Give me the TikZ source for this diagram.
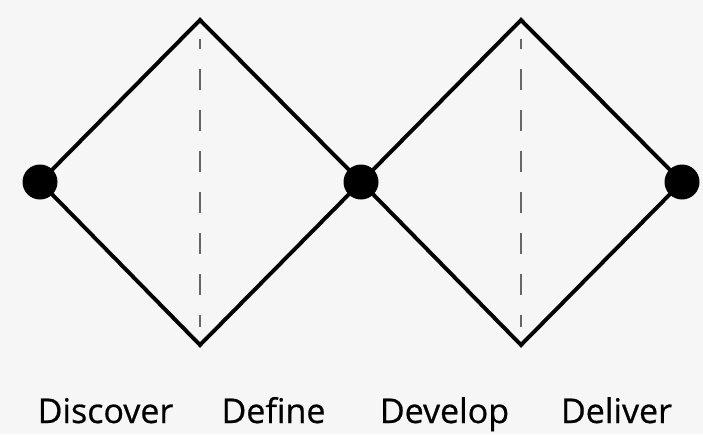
\documentclass[tikz,border=0pt]{standalone}
\usepackage{fontspec}
\setmainfont{Open Sans}
\newfontfamily\labelfont[FakeBold=0.6]{Open Sans}
\begin{document}
\begin{tikzpicture}[x=1pt,y=-1pt,
  edge/.style={line width=3.9pt, draw=black, line join=miter},
  dot/.style={circle, fill=black, inner sep=0pt, minimum size=35pt},
  axis/.style={line width=2pt, draw=black!60, dash pattern=on 21pt off 20pt, dash phase=11pt},
  phase/.style={anchor=base, font=\labelfont\fontsize{34pt}{40pt}\selectfont, text=black, inner sep=0pt}]
  \fill[black!3.5] (0,0) rectangle (703,434);
  \useasboundingbox (0,0) rectangle (703,434);

  % diamond corners
  \coordinate (t1) at (200,20);
  \coordinate (b1) at (200,345);
  \coordinate (t2) at (521,20);
  \coordinate (b2) at (521,345);
  \coordinate (a1) at (200,39);
  \coordinate (z1) at (200,327);
  \coordinate (a2) at (521,39);
  \coordinate (z2) at (521,327);

  % the two diamonds
  \coordinate (l) at (40,182);
  \coordinate (m) at (361,182);
  \coordinate (r) at (682,182);
  \draw[edge] (l) -- (t1) -- (m) -- (t2) -- (r) -- (b2) -- (m) -- (b1) -- cycle;

  % dashed centre lines
  \draw[axis] (a1) -- (z1);
  \draw[axis] (a2) -- (z2);

  % junction dots
  \node[dot] (L) at (l) {};
  \node[dot] (M) at (m) {};
  \node[dot] (R) at (r) {};

  % phase labels
  \node[phase] (discover) at (105.5,423) {Discover};
  \node[phase] (define) at (273.5,423) {Define};
  \node[phase] (develop) at (444.5,423) {Develop};
  \node[phase] (deliver) at (616.5,423) {Deliver};
\end{tikzpicture}
\end{document}
